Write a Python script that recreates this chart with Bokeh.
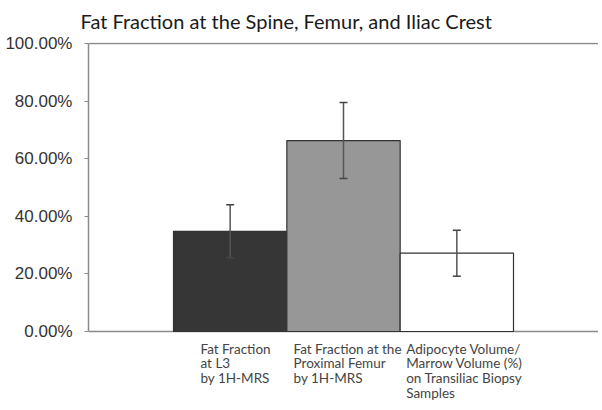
from bokeh.plotting import figure
from bokeh.models import (Range1d, FixedTicker, NumeralTickFormatter, Whisker, TeeHead,
                          ColumnDataSource, Title)
from bokeh.core.properties import value
from bokeh.embed import file_html
from bokeh.resources import INLINE

# ---- data ----
title_text = "Fat Fraction at the Spine, Femur, and Iliac Crest"
categories = [
    "Fat Fraction\nat L3\nby 1H-MRS",
    "Fat Fraction at the\nProximal Femur\nby 1H-MRS",
    "Adipocyte Volume/\nMarrow Volume (%)\non Transiliac Biopsy\nSamples",
]
fat_fraction = [0.348, 0.663, 0.272]
error = [0.092, 0.132, 0.080]
y_ticks = [0.0, 0.2, 0.4, 0.6, 0.8, 1.0]

# ---- styling / layout ----
bar_colors = ["#363636", "#979797", "#ffffff"]
first_center = 1.25
label_shift = [0.238, 0.059, 0.053]
px_per_unit = 288.0          # vertical pixels per 100 %
frame_bottom_px = 410 - 331  # room below the 0 % line for the category texts

centers = [first_center + i for i in range(len(fat_fraction))]
lower = [v - e for v, e in zip(fat_fraction, error)]
upper = [v + e for v, e in zip(fat_fraction, error)]

src = ColumnDataSource(dict(x=centers, top=fat_fraction, color=bar_colors,
                            lower=lower, upper=upper))

p = figure(width=598, height=410, output_backend="svg", toolbar_location=None,
           x_range=Range1d(0, 4.5),
           y_range=Range1d(-frame_bottom_px / px_per_unit, 1.0035),
           min_border_left=88, min_border_right=0, min_border_top=42,
           min_border_bottom=0, x_axis_location=None, title=None)

p.outline_line_color = None
p.background_fill_color = "white"

p.add_layout(Title(text=title_text, text_font="Lato", text_font_size="20px",
                   text_font_style="normal", text_color="#1a1a1a",
                   align="left", offset=-8, standoff=0,
                   padding=(0, 0, 0, 10)), "above")

p.vbar(x="x", top="top", width=1.0, bottom=0, source=src,
       fill_color="color", line_color="#333333", line_width=1.2)

w = Whisker(base="x", lower="lower", upper="upper", source=src,
            line_color="#555555", line_width=1.5, level="overlay",
            upper_head=TeeHead(size=8, line_color="#444444", line_width=1.5),
            lower_head=TeeHead(size=8, line_color="#444444", line_width=1.5))
p.add_layout(w)

# y axis (line only between 0 % and 100 %)
p.yaxis.bounds = (y_ticks[0], y_ticks[-1])
p.yaxis.ticker = FixedTicker(ticks=y_ticks)
p.yaxis.formatter = NumeralTickFormatter(format="0.00%")
p.yaxis.major_label_text_font = "Liberation Sans"
p.yaxis.major_label_text_font_size = "17px"
p.yaxis.major_label_text_color = "#333333"
p.yaxis.axis_line_color = "#8a8a8a"
p.yaxis.axis_line_width = 1.5
p.yaxis.major_tick_line_color = "#8a8a8a"
p.yaxis.major_tick_in = 0
p.yaxis.major_tick_out = 4
p.yaxis.minor_tick_line_color = None
p.yaxis.major_label_standoff = 12

# baseline (0 %) and top line (100 %)
p.xgrid.grid_line_color = None
p.ygrid.ticker = FixedTicker(ticks=[y_ticks[0], y_ticks[-1]])
p.ygrid.grid_line_color = "#8a8a8a"
p.ygrid.grid_line_width = 1.5

# left-aligned multi-line category texts below the bars
tx, ty, tt = [], [], []
for c, s, lab in zip(centers, label_shift, categories):
    for i, line in enumerate(lab.split("\n")):
        tx.append(c - 0.5 + s)
        ty.append(-(17 + 14.7 * i) / px_per_unit)
        tt.append(line)
p.text(x=tx, y=ty, text=tt, text_font=value("Lato"), text_font_size="13.5px",
       text_color="#444444", text_align="left", text_baseline="middle")

open("out.html", "w").write(file_html(p, INLINE))
